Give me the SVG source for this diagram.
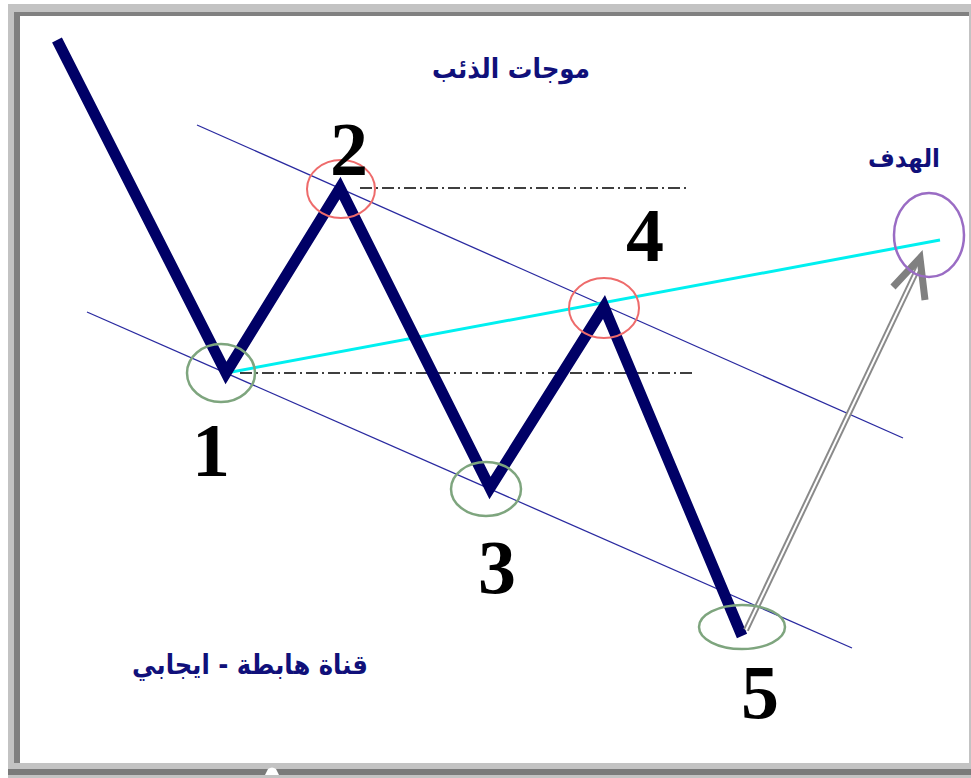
<svg xmlns="http://www.w3.org/2000/svg" width="971" height="778" viewBox="0 0 971 778">
<style>
.ar{font-family:"DejaVu Sans",sans-serif;font-weight:bold;fill:#10107a;text-anchor:middle}
.num{font-family:"Liberation Serif","Times New Roman",serif;font-weight:bold;fill:#000;font-size:76px;text-anchor:middle}
.chan{stroke:#2a2aa0;stroke-width:1.3;fill:none}
.dd{stroke:#000;stroke-width:1.5;stroke-dasharray:12 4 2 4;fill:none}
.red{fill:none;stroke:#ee6b6b;stroke-width:2}
.grn{fill:none;stroke:#7ea57e;stroke-width:2.5}
</style>
<rect x="0" y="0" width="971" height="778" fill="#ffffff"/>
<rect x="8" y="4" width="963" height="774" fill="#c3c3c3"/>
<rect x="14" y="12" width="955" height="751" fill="#808080"/>
<rect x="20" y="16" width="949" height="747" fill="#ffffff"/>
<rect x="8" y="769" width="963" height="6" fill="#7a7a7a"/>
<path d="M265 775 L268 769 Q272 766 276 769 L279 775 Z" fill="#ffffff"/>

<g id="connectors">
<line class="chan" x1="197" y1="125" x2="903" y2="438"/>
<line class="chan" x1="87" y1="312" x2="852" y2="648"/>
<line class="dd" x1="360" y1="188" x2="690" y2="188"/>
<line class="dd" x1="240" y1="373" x2="695" y2="373"/>
<line x1="226" y1="373" x2="940" y2="240" stroke="#00f0f0" stroke-width="3"/>
<polyline points="57,40 226,373 340,188 490,488 604,307 742,636" fill="none" stroke="#000066" stroke-width="11" stroke-linejoin="miter" stroke-miterlimit="10"/>
<g id="arrow">
<line x1="746" y1="630" x2="919" y2="266" stroke="#8a8a8a" stroke-width="6"/>
<line x1="746" y1="630" x2="919" y2="266" stroke="#ffffff" stroke-width="2"/>
<polyline points="893,287 920,258 925,300" fill="none" stroke="#808080" stroke-width="7"/>
</g>
</g>

<g id="n1"><ellipse class="grn" cx="221" cy="373" rx="34" ry="29"/><text class="num" x="211" y="476">1</text></g>
<g id="n2"><ellipse class="red" cx="341" cy="189" rx="34" ry="29"/><text class="num" x="349" y="175">2</text></g>
<g id="n3"><ellipse class="grn" cx="486" cy="489" rx="35" ry="27"/><text class="num" x="497" y="593">3</text></g>
<g id="n4"><ellipse class="red" cx="604" cy="308" rx="35" ry="30"/><text class="num" x="645" y="261">4</text></g>
<g id="n5"><ellipse class="grn" cx="742" cy="627" rx="43" ry="22"/><text class="num" x="760" y="718">5</text></g>
<g id="target"><ellipse cx="929" cy="235" rx="35" ry="42" fill="none" stroke="#9a6cc4" stroke-width="2.5"/></g>

<g id="labels">
<text class="ar" x="511" y="78" font-size="27" textLength="158" lengthAdjust="spacingAndGlyphs">موجات الذئب</text>
<text class="ar" x="904" y="167" font-size="25" textLength="72" lengthAdjust="spacingAndGlyphs">الهدف</text>
<text class="ar" x="250" y="674" font-size="27" textLength="236" lengthAdjust="spacingAndGlyphs">قناة هابطة - ايجابي</text>
</g>
</svg>
